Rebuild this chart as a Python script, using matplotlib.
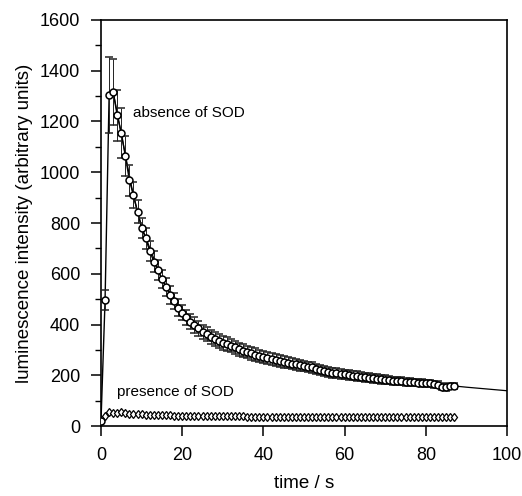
import numpy as np
import matplotlib
matplotlib.use("Agg")
import matplotlib.pyplot as plt
from matplotlib.ticker import MultipleLocator

plt.rcParams['font.family'] = ['Liberation Sans', 'DejaVu Sans']

# absence of SOD: one reading per second, t = 0 .. 87
t_abs = list(range(88))
abs_val = [20, 496, 1306, 1316, 1224, 1155, 1064, 968, 910, 844,
           781, 739, 690, 648, 615, 578, 549, 516, 493, 467,
           446, 428, 411, 398, 385, 372, 362, 352, 343, 335,
           328, 322, 316, 310, 303, 297, 292, 287, 281, 277,
           272, 268, 264, 260, 257, 253, 249, 246, 243, 240,
           236, 233, 231, 226, 222, 218, 214, 210, 208, 205,
           203, 201, 199, 197, 194, 192, 190, 188, 186, 184,
           183, 181, 179, 177, 176, 175, 173, 172, 171, 170,
           169, 168, 165, 163, 155, 152, 158, 158]
abs_err = [5, 40, 150, 130, 100, 100, 80, 60, 50, 45,
           40, 40, 40, 40, 38, 36, 35, 34, 33, 32,
           30, 30, 30, 30, 30, 28, 28, 28, 28, 27,
           27, 27, 26, 26, 26, 25, 25, 25, 25, 24,
           24, 24, 24, 23, 23, 23, 22, 22, 22, 22,
           21, 21, 21, 20, 20, 20, 20, 20, 20, 19,
           19, 19, 19, 18, 18, 18, 18, 18, 17, 17,
           17, 17, 16, 16, 16, 16, 15, 15, 15, 15,
           14, 14, 14, 14, 13, 13, 13, 12]

# fitted decay curve
t_fit = [3, 5, 8, 10, 15, 20, 25, 30, 40, 50, 60, 70, 80, 90, 100]
fit_val = [1316, 1150, 905, 785, 578, 446, 372, 328, 272, 236, 203, 183, 169, 153, 139]

# presence of SOD
t_pre = list(range(88))
pre_val = [20, 40, 55, 52, 50, 55, 50, 48, 47, 46,
           46, 45, 44, 44, 43, 43, 42, 42, 41, 41,
           41, 40, 40, 40, 40, 39, 39, 39, 39, 38,
           38, 38, 38, 38, 38, 38, 37, 37, 37, 37,
           37, 37, 37, 36, 36, 36, 36, 36, 36, 36,
           36, 36, 35, 35, 35, 35, 35, 35, 35, 35,
           35, 35, 35, 35, 35, 35, 35, 35, 35, 35,
           35, 35, 35, 35, 35, 35, 35, 35, 35, 35,
           35, 35, 35, 35, 35, 35, 35, 35]

fig = plt.figure(figsize=(5.22, 4.96), dpi=100)
ax = fig.add_axes([0.1935, 0.1411, 0.7778, 0.8186])

ax.plot(t_fit, fit_val, color='black', lw=0.9, zorder=2)
ax.errorbar(t_abs, abs_val, yerr=abs_err, fmt='o', ms=5, mfc='white',
            mec='black', mew=1.1, color='black', ecolor='#222222',
            elinewidth=0.7, capsize=3, capthick=0.7, zorder=3)
ax.plot(t_abs, abs_val, color='black', lw=1.0, zorder=2)
ax.plot(t_pre, pre_val, 'd', ms=4.5, mfc='white', mec='black', mew=0.9,
        color='black', zorder=3)

ax.text(8, 1233, 'absence of SOD', fontsize=11, va='center', ha='left')
ax.text(4, 135, 'presence of SOD', fontsize=11, va='center', ha='left')

ax.set_xlim(0, 100)
ax.set_ylim(0, 1600)
ax.xaxis.set_major_locator(MultipleLocator(20))
ax.yaxis.set_major_locator(MultipleLocator(200))
ax.yaxis.set_minor_locator(MultipleLocator(100))
ax.tick_params(axis='both', which='major', direction='out', length=7,
               width=1.1, labelsize=13, top=False, right=False, pad=8)
ax.tick_params(axis='y', which='minor', direction='out', length=4, width=1.0)
for s in ax.spines.values():
    s.set_linewidth(1.2)

ax.set_xlabel('time / s', fontsize=13.5, labelpad=8)
ax.set_ylabel('luminescence intensity (arbitrary units)', fontsize=13.5, labelpad=5)

fig.savefig('out.png', dpi=100)
